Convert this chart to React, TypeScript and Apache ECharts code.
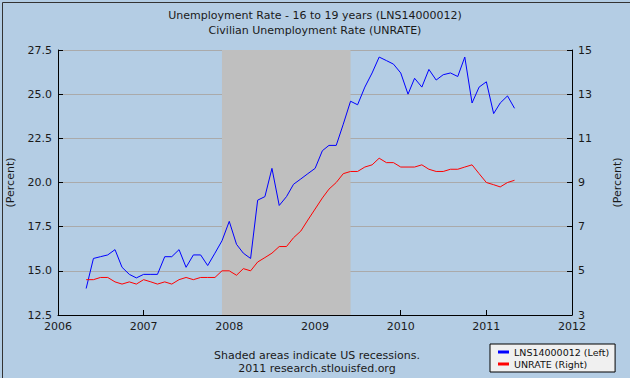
import React, { useEffect, useRef } from "react";
import * as echarts from "echarts";

// Monthly observations, May 2006 – May 2011
const startYear = 2006;
const startMonth = 5;

const teenRate = [
  // 2006 May–Dec
  14.0, 15.7, 15.8, 15.9, 16.2, 15.2, 14.8, 14.6,
  // 2007
  14.8, 14.8, 14.8, 15.8, 15.8, 16.2, 15.2, 15.9, 15.9, 15.3, 16.0, 16.7,
  // 2008
  17.8, 16.5, 16.0, 15.7, 19.0, 19.2, 20.8, 18.7, 19.2, 19.9, 20.2, 20.5,
  // 2009
  20.8, 21.8, 22.1, 22.1, 23.3, 24.6, 24.4, 25.4, 26.2, 27.1, 26.9, 26.7,
  // 2010
  26.2, 25.0, 25.9, 25.4, 26.4, 25.8, 26.1, 26.2, 26.0, 27.1, 24.5, 25.4,
  // 2011 Jan–May
  25.7, 23.9, 24.5, 24.9, 24.2,
];

const unrate = [
  // 2006 May–Dec
  4.6, 4.6, 4.7, 4.7, 4.5, 4.4, 4.5, 4.4,
  // 2007
  4.6, 4.5, 4.4, 4.5, 4.4, 4.6, 4.7, 4.6, 4.7, 4.7, 4.7, 5.0,
  // 2008
  5.0, 4.8, 5.1, 5.0, 5.4, 5.6, 5.8, 6.1, 6.1, 6.5, 6.8, 7.3,
  // 2009
  7.8, 8.3, 8.7, 9.0, 9.4, 9.5, 9.5, 9.7, 9.8, 10.1, 9.9, 9.9,
  // 2010
  9.7, 9.7, 9.7, 9.8, 9.6, 9.5, 9.5, 9.6, 9.6, 9.7, 9.8, 9.4,
  // 2011 Jan–May
  9.0, 8.9, 8.8, 9.0, 9.1,
];

const recession = ["2007-12-01", "2009-06-01"];
const titleLines = [
  "Unemployment Rate - 16 to 19 years (LNS14000012)",
  "Civilian Unemployment Rate (UNRATE)",
];
const seriesNames = ["LNS14000012 (Left)", "UNRATE (Right)"];
const footerLines = [
  "Shaded areas indicate US recessions.",
  "2011 research.stlouisfed.org",
];

function monthDates(n: number): string[] {
  const out: string[] = [];
  for (let i = 0; i < n; i++) {
    const m0 = startMonth - 1 + i;
    const y = startYear + Math.floor(m0 / 12);
    const m = (m0 % 12) + 1;
    out.push(`${y}-${String(m).padStart(2, "0")}-01`);
  }
  return out;
}

const FONT = "DejaVu Sans";

export default function App() {
  const ref = useRef<HTMLDivElement>(null);
  useEffect(() => {
    document.body.style.margin = "0";
    if (!ref.current) return;
    const chart = echarts.init(ref.current, null, { renderer: "svg" });
    const dates = monthDates(teenRate.length);
    const yearMs = 365.25 * 24 * 3600 * 1000;
    chart.setOption({
      animation: false,
      backgroundColor: "#b4cde4",
      textStyle: { fontFamily: FONT },
      title: {
        text: titleLines.join("\n"),
        left: "center",
        top: 3,
        textStyle: {
          fontFamily: FONT,
          fontSize: 11,
          fontWeight: "normal",
          color: "#1a1a1a",
          lineHeight: 15,
        },
      },
      legend: {
        orient: "vertical",
        left: 490,
        top: 344,
        backgroundColor: "#f0f0f0",
        borderColor: "#000",
        borderWidth: 1,
        borderRadius: 0,
        padding: [3, 6, 3, 8],
        itemGap: 2,
        itemWidth: 11,
        itemHeight: 3,
        icon: "rect",
        data: seriesNames,
        textStyle: { fontFamily: FONT, fontSize: 9.5, color: "#111" },
      },
      grid: {
        left: 58,
        right: 58,
        top: 50,
        bottom: 63,
        containLabel: false,
        outerBoundsMode: "none",
      },
      xAxis: {
        type: "time",
        min: "2006-01-01",
        max: "2012-01-01",
        minInterval: yearMs,
        maxInterval: yearMs,
        axisLine: { show: true, lineStyle: { color: "#000", width: 1 } },
        axisTick: { show: true, inside: true, length: 5, lineStyle: { color: "#000" } },
        axisLabel: {
          fontFamily: FONT,
          fontSize: 11,
          color: "#1a1a1a",
          margin: 6,
          formatter: (v: number) => String(new Date(v).getFullYear()),
          showMinLabel: true,
          showMaxLabel: true,
        },
        splitLine: { show: false },
        minorTick: { show: false },
      },
      yAxis: [
        {
          type: "value",
          min: 12.5,
          max: 27.5,
          interval: 2.5,
          name: "(Percent)",
          nameLocation: "middle",
          nameGap: 42,
          nameRotate: 90,
          nameMoveOverlap: false,
          nameTextStyle: { fontFamily: FONT, fontSize: 11, color: "#1a1a1a" },
          axisLine: { show: true, lineStyle: { color: "#000", width: 1 } },
          axisTick: { show: true, inside: true, length: 5, lineStyle: { color: "#000" } },
          axisLabel: {
            fontFamily: FONT,
            fontSize: 11,
            color: "#1a1a1a",
            margin: 6,
            formatter: (v: number) => v.toFixed(1),
          },
          splitLine: { show: true, lineStyle: { color: "#aaaaaa", width: 1 } },
        },
        {
          type: "value",
          min: 3,
          max: 15,
          interval: 2,
          position: "right",
          name: "(Percent)",
          nameLocation: "middle",
          nameGap: 40,
          nameRotate: 90,
          nameMoveOverlap: false,
          nameTextStyle: { fontFamily: FONT, fontSize: 11, color: "#1a1a1a" },
          axisLine: { show: true, lineStyle: { color: "#000", width: 1 } },
          axisTick: { show: true, inside: true, length: 5, lineStyle: { color: "#000" } },
          axisLabel: { fontFamily: FONT, fontSize: 11, color: "#1a1a1a", margin: 6 },
          splitLine: { show: false },
        },
      ],
      series: [
        {
          name: "recession",
          type: "line",
          data: [],
          markArea: {
            silent: true,
            itemStyle: { color: "#bfbfbf", opacity: 1 },
            data: [[{ xAxis: recession[0] }, { xAxis: recession[1] }]],
          },
        },
        {
          name: seriesNames[0],
          type: "line",
          yAxisIndex: 0,
          showSymbol: false,
          symbol: "none",
          color: "#0000ff",
          lineStyle: { color: "#0000ff", width: 1 },
          data: dates.map((d, i) => [d, teenRate[i]]),
          z: 3,
        },
        {
          name: seriesNames[1],
          type: "line",
          yAxisIndex: 1,
          showSymbol: false,
          symbol: "none",
          color: "#ff0000",
          lineStyle: { color: "#ff0000", width: 1 },
          data: dates.map((d, i) => [d, unrate[i]]),
          z: 3,
        },
      ],
      graphic: [
        {
          type: "rect",
          left: 0,
          top: 0,
          shape: { width: 629, height: 377 },
          style: { fill: "none", stroke: "#333", lineWidth: 1 },
          silent: true,
        },
        {
          type: "text",
          x: 317,
          y: 355,
          style: {
            text: footerLines[0],
            fontFamily: FONT,
            fontSize: 11,
            fill: "#1a1a1a",
            align: "center",
            verticalAlign: "middle",
          },
        },
        {
          type: "text",
          x: 317,
          y: 368,
          style: {
            text: footerLines[1],
            fontFamily: FONT,
            fontSize: 11,
            fill: "#1a1a1a",
            align: "center",
            verticalAlign: "middle",
          },
        },
      ],
    });
    return () => chart.dispose();
  }, []);
  return <div ref={ref} style={{ width: 630, height: 378 }} />;
}
